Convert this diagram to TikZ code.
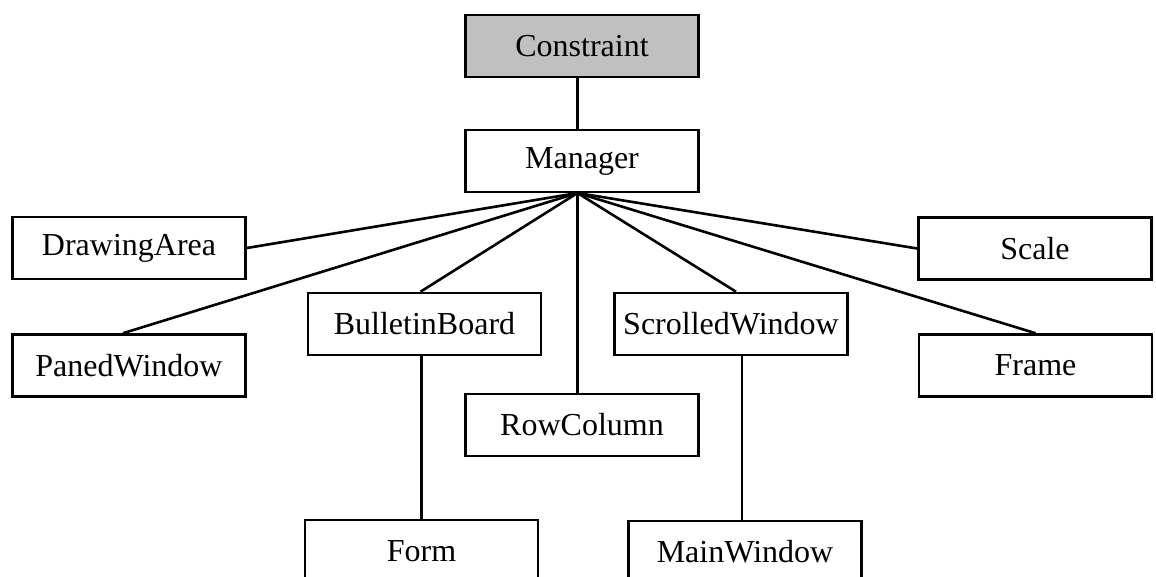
\documentclass[tikz,border=0pt]{standalone}
\usepackage{fontspec}
\setmainfont{Liberation Serif}
\definecolor{boxgray}{RGB}{192,192,192}
\begin{document}
\begin{tikzpicture}[x=1pt,y=-1pt,
  cls/.style={draw=black, line width=2.6pt, rectangle, minimum width=233pt, minimum height=62pt, inner sep=0pt, fill=white,
    font=\fontsize{32}{38}\selectfont},
  link/.style={line width=2.6pt, draw=black}]
\clip (0,0) rectangle (1156,576);
\node[cls, fill=boxgray] (Constraint) at (582,46) {Constraint};
\node[cls] (Manager) at (582,161) {Manager};
\node[cls] (DrawingArea) at (129,248) {DrawingArea};
\node[cls] (Scale) at (1035,248.5) {Scale};
\node[cls] (PanedWindow) at (129,365.5) {PanedWindow};
\node[cls] (Frame) at (1035.5,365.5) {Frame};
\node[cls] (BulletinBoard) at (424.5,324) {BulletinBoard};
\node[cls] (ScrolledWindow) at (731,324) {ScrolledWindow};
\node[cls] (RowColumn) at (582,425) {RowColumn};
\node[cls] (Form) at (421.5,551) {Form};
\node[cls] (MainWindow) at (745,552) {MainWindow};
\coordinate (hub) at (577.5,193);
\coordinate (swdrop) at ([xshift=11pt]ScrolledWindow.south);
\path[link] (Constraint.south -| hub) -- (Manager.north -| hub);
\path[link] (hub) -- (DrawingArea.east);
\path[link] (hub) -- (Scale.west);
\path[link] (hub) -- ([xshift=-6pt]PanedWindow.north);
\path[link] (hub) -- (Frame.north);
\path[link] (hub) -- ([xshift=-4pt]BulletinBoard.north);
\path[link] (hub) -- ([xshift=5pt]ScrolledWindow.north);
\path[link] (hub) -- (hub |- RowColumn.north);
\path[link] (BulletinBoard.south -| Form.north) -- (Form.north);
\path[link] (swdrop) -- (swdrop |- MainWindow.north);
\end{tikzpicture}
\end{document}
